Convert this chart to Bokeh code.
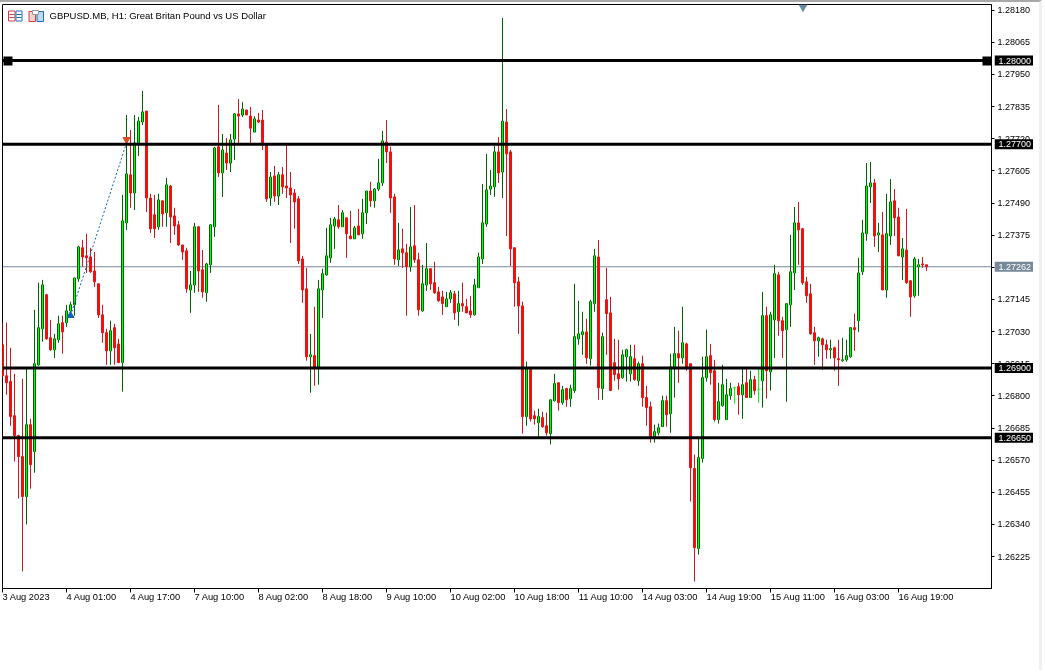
from bokeh.plotting import figure
from bokeh.embed import file_html
from bokeh.resources import INLINE
from bokeh.core.properties import value
from bokeh.models import (LinearAxis, FixedTicker, Label, Range1d, Span,
                          PrintfTickFormatter, ColumnDataSource)
import numpy as np

# ---- data, in points (1e-5 price units), one value per hourly bar
open_pts = [126983,126872,126851,126729,126658,126583,126440,126697,126601,126911,
 127040,127162,127008,126965,127001,127062,127062,127104,127126,127219,
 127330,127301,127297,127247,127201,127090,127026,126961,127044,126986,
 126919,127419,127591,127526,127705,127780,127819,127508,127448,127405,
 127498,127455,127551,127444,127412,127340,127319,127179,127197,127405,
 127251,127169,127269,127405,127691,127598,127669,127633,127719,127809,
 127805,127823,127801,127744,127787,127787,127698,127508,127587,127515,
 127591,127551,127544,127526,127505,127290,127183,126940,126944,126904,
 127179,127233,127294,127408,127430,127405,127437,127372,127362,127408,
 127380,127455,127533,127498,127540,127562,127708,127673,127512,127287,
 127326,127312,127262,127337,127287,127104,127197,127255,127205,127172,
 127154,127119,127147,127165,127101,127130,127119,127104,127090,127187,
 127290,127415,127540,127548,127673,127601,127780,127673,127330,127208,
 127122,126726,126897,126729,126704,126722,126693,126665,126783,126847,
 126776,126826,126790,126819,127004,127019,127029,126933,127130,127297,
 126826,127144,127097,126919,126879,126865,126940,126879,126933,126854,
 126915,126794,126761,126654,126668,126690,126783,126736,126897,126951,
 126936,126986,126915,126540,126254,126576,126865,126944,126890,126715,
 126765,126715,126801,126829,126833,126804,126847,126794,126858,126822,
 126854,127087,126886,127072,127233,127069,127037,127126,127240,127419,
 127398,127208,127165,127026,126997,127004,126983,126965,126972,126933,
 126926,126929,126940,127044,127069,127244,127380,127548,127562,127376,
 127376,127179,127372,127498,127440,127297,127322,127212,127158,127262,127272,127269]
high_pts = [127062,127062,126972,126879,126661,126861,126904,126718,127108,127205,
 127215,127165,127072,127022,127087,127087,127126,127137,127222,127337,
 127358,127380,127330,127315,127201,127126,127040,127069,127058,127004,
 127519,127805,127751,127805,127798,127891,127819,127523,127519,127523,
 127498,127580,127555,127473,127426,127340,127330,127247,127419,127408,
 127322,127276,127415,127691,127841,127737,127723,127737,127812,127862,
 127851,127823,127834,127801,127812,127823,127698,127601,127623,127601,
 127619,127698,127601,127540,127515,127301,127258,127022,127119,127215,
 127255,127401,127437,127440,127483,127465,127437,127462,127408,127469,
 127505,127533,127566,127544,127648,127748,127787,127691,127523,127419,
 127398,127344,127476,127483,127312,127269,127347,127255,127280,127190,
 127176,127172,127179,127176,127176,127205,127147,127158,127219,127312,
 127558,127666,127608,127694,127726,128152,127826,127680,127330,127226,
 127137,126922,126897,126747,126754,126743,126740,126786,126879,126847,
 126836,126829,126840,127201,127140,127101,127076,127144,127326,127358,
 127026,127258,127154,127004,127001,126965,126969,126983,126983,126922,
 126944,126836,126779,126697,126701,126801,126801,126951,127047,127033,
 127119,126990,126915,126590,126647,126940,127037,126986,126929,126847,
 126911,126861,126847,126833,126847,126897,126897,126890,126872,126897,
 127172,127119,127101,127269,127244,127083,127130,127376,127476,127494,
 127401,127226,127201,127047,127012,127008,127001,127001,126976,127001,
 127008,127001,127044,127094,127294,127430,127633,127637,127576,127419,
 127458,127523,127576,127540,127473,127365,127469,127212,127297,127290,127297,127269]
low_pts = [126865,126804,126693,126565,126433,126172,126340,126468,126525,126908,
 126994,127001,126961,126936,126990,126951,127047,127097,127087,127208,
 127262,127240,127240,127190,127079,126990,126911,126911,126911,126919,
 126815,127394,127473,127465,127658,127769,127458,127383,127365,127394,
 127405,127405,127347,127376,127337,127287,127169,127097,127169,127172,
 127151,127137,127240,127369,127583,127512,127608,127601,127644,127705,
 127798,127805,127705,127744,127776,127680,127494,127480,127494,127483,
 127523,127508,127347,127398,127272,127133,126926,126811,126836,126840,
 127079,127230,127276,127326,127398,127405,127294,127362,127362,127376,
 127362,127415,127476,127473,127533,127551,127633,127455,127269,127265,
 127258,127087,127244,127276,127087,127101,127176,127179,127165,127137,
 127090,127119,127133,127072,127051,127101,127097,127079,127087,127187,
 127272,127405,127519,127512,127562,127508,127372,127265,127119,127022,
 126665,126693,126708,126697,126651,126686,126658,126626,126779,126747,
 126768,126761,126761,126811,126983,126947,126915,126908,127101,126786,
 126786,126947,126819,126854,126822,126861,126851,126851,126854,126836,
 126761,126693,126633,126633,126658,126690,126690,126668,126794,126847,
 126915,126890,126422,126136,126232,126561,126851,126840,126708,126701,
 126761,126715,126786,126772,126733,126718,126794,126794,126804,126776,
 126758,126790,126819,126936,127015,126936,126779,127047,127179,127269,
 127197,127133,127019,126911,126940,126893,126933,126933,126890,126836,
 126922,126922,126936,126961,127029,127233,127355,127490,127333,127315,
 127179,127151,127340,127372,127301,127215,127201,127083,127151,127158,127258,127247]
close_pts = [126872,126847,126726,126658,126583,126440,126697,126554,126915,127044,
 127197,127004,126965,127004,127058,127029,127104,127126,127222,127333,
 127297,127294,127244,127208,127090,127026,126961,127033,126972,126919,
 127426,127594,127526,127705,127783,127816,127508,127398,127398,127501,
 127451,127555,127440,127408,127340,127315,127183,127197,127405,127247,
 127172,127272,127412,127687,127598,127680,127633,127716,127809,127801,
 127826,127805,127758,127791,127780,127698,127505,127583,127515,127591,
 127548,127544,127519,127494,127283,127179,126940,126947,126897,127183,
 127237,127301,127412,127433,127405,127455,127380,127362,127401,127376,
 127455,127533,127498,127540,127562,127712,127673,127508,127290,127322,
 127312,127262,127333,127287,127108,127201,127255,127201,127169,127140,
 127130,127147,127169,127097,127130,127122,127097,127090,127197,127297,
 127419,127537,127551,127673,127598,127783,127666,127326,127205,127122,
 126726,126897,126718,126718,126726,126690,126668,126786,126844,126776,
 126822,126786,126826,127012,127022,127029,126936,127137,127301,126829,
 127012,127094,126819,126876,126861,126947,126965,126940,126858,126915,
 126794,126758,126654,126672,126686,126783,126733,126904,126951,126936,
 126990,126904,126543,126257,126579,126865,126940,126883,126715,126779,
 126840,126804,126826,126829,126804,126840,126794,126858,126819,126822,
 127087,126890,127090,127237,127069,127033,127130,127244,127419,127394,
 127205,127158,127022,126997,127008,126983,126965,126969,126936,126929,
 126929,126944,127044,127037,127240,127383,127551,127562,127372,127383,
 127179,127380,127494,127437,127301,127326,127205,127154,127290,127269,127269,127262]

price_ticks = [1.28180,1.28065,1.27950,1.27835,1.27720,1.27605,1.27490,1.27375,1.27260,
               1.27145,1.27030,1.26915,1.26800,1.26685,1.26570,1.26455,1.26340,1.26225]
time_labels = ["3 Aug 2023","4 Aug 01:00","4 Aug 17:00","7 Aug 10:00","8 Aug 02:00",
               "8 Aug 18:00","9 Aug 10:00","10 Aug 02:00","10 Aug 18:00","11 Aug 10:00",
               "14 Aug 03:00","14 Aug 19:00","15 Aug 11:00","16 Aug 03:00","16 Aug 19:00"]
time_ticks = [0,16,32,48,64,80,96,112,128,144,160,176,192,208,224]
levels = [1.28000,1.27700,1.26900,1.26650]
last_price = 1.27262
trade_bars = [17,31]
trade_prices = [1.27087,1.27705]
title = "GBPUSD.MB, H1:  Great Britan Pound vs US Dollar"

FONT = "Liberation Sans"
GREEN_DK, GREEN_LT, RED, RED_WICK, LIME = "#006400", "#00ff00", "#f01010", "#c81c1c", "#00ff00"
SLATE = "#778899"

o, h, l, c = (np.array(a)/1e5 for a in (open_pts, high_pts, low_pts, close_pts))
idx = np.arange(len(o))
wick = [LIME if a == b else (GREEN_DK if b > a else RED_WICK) for a, b in zip(o, c)]
edge = [LIME if a == b else (GREEN_DK if b > a else RED) for a, b in zip(o, c)]
fill = [LIME if a == b else (GREEN_LT if b > a else RED) for a, b in zip(o, c)]
src = ColumnDataSource(dict(x=idx, h=h, l=l, top=np.maximum(o, c), bot=np.minimum(o, c),
                            wick=wick, edge=edge, fill=fill))

# frame geometry of the picture: the canvas starts under a 2px window edge
EDGE_T, EDGE_R = 2, 3
L, T, FW, FH, W, H = 2, 2, 989, 584, 1045-EDGE_R, 670
PX_PER_BAR = 4.0
PER_PX = 1/27948
x0 = (L - 2.0)/PX_PER_BAR
x1 = x0 + FW/PX_PER_BAR
ytop = 1.28000 + (60 - (T+EDGE_T))*PER_PX
ybot = ytop - FH*PER_PX
xd = lambda px: x0 + (px - L)/PX_PER_BAR
yd = lambda py: ytop - (py - (T+EDGE_T))*PER_PX

p = figure(width=W, height=H, output_backend="svg", toolbar_location=None,
           x_range=Range1d(x0, x1), y_range=Range1d(ybot, ytop),
           x_axis_type=None, y_axis_type=None, tools="",
           min_border_left=L, min_border_top=T, min_border_right=W-L-FW, min_border_bottom=H-T-FH,
           background_fill_color="white", border_fill_color="white",
           outline_line_color="black", outline_line_width=1)
p.grid.visible = False
p.styles = {"position": "fixed", "left": "0px", "top": "0px",
            "border-top": f"{EDGE_T}px solid #a8a8a8", "border-right": f"{EDGE_R}px solid #f0f0f0"}

# axes
ax_y = LinearAxis(ticker=FixedTicker(ticks=price_ticks), formatter=PrintfTickFormatter(format="%.5f"),
                  major_tick_in=0, major_tick_out=3, minor_tick_line_color=None,
                  major_label_standoff=3, major_label_text_font=FONT, major_label_text_font_size="9px",
                  major_label_text_color="black", axis_line_color="black")
p.add_layout(ax_y, "right")

ax_x = LinearAxis(ticker=FixedTicker(ticks=time_ticks), major_tick_in=0, major_tick_out=4,
                  minor_tick_line_color=None, axis_line_color="black",
                  major_label_text_font_size="0px", major_label_standoff=0,
                  major_label_overrides={t: "" for t in time_ticks})
p.add_layout(ax_x, "below")

# labels start at their tick: a second, line-less axis carries them, centred half a label to the right
XFS = 9.3
CW = {" ": .278, ":": .278, "A": .667, "u": .556, "g": .556}
lw = lambda s: sum(CW.get(ch, .556) for ch in s)*XFS/PX_PER_BAR
shifted = [t + lw(s)/2 for t, s in zip(time_ticks, time_labels)]
ax_xl = LinearAxis(ticker=FixedTicker(ticks=shifted), major_tick_line_color=None, minor_tick_line_color=None,
                   axis_line_color=None, major_label_standoff=-7, major_label_text_font=FONT,
                   major_label_text_font_size=f"{XFS}px", major_label_text_color="black",
                   major_label_overrides=dict(zip(shifted, time_labels)))
p.add_layout(ax_xl, "below")

# last price line goes under the candles
p.add_layout(Span(location=last_price, dimension="width", line_color=SLATE, line_width=1, level="underlay"))

p.segment("x", "h", "x", "l", source=src, line_color="wick", line_width=1)
p.vbar(x="x", width=0.5, top="top", bottom="bot", source=src, fill_color="fill", line_color="edge", line_width=1)
# bright core of each body
p.vbar(x="x", width=0.25, top="top", bottom="bot", source=src, fill_color="fill", line_color=None)

# trade markers
p.line(trade_bars, trade_prices, line_color="#1464b4", line_width=1, line_dash="2 2")
p.scatter([trade_bars[0]], [yd(315)], marker="triangle", size=7, fill_color="#1464b4", line_color="#1464b4")
p.scatter([trade_bars[1]], [yd(139)], marker="inverted_triangle", size=7, fill_color="#e04a20", line_color="#e04a20")

# horizontal levels
for lv in levels:
    p.add_layout(Span(location=lv, dimension="width", line_color="black", line_width=3))
# end handles of the top level
p.quad(left=[xd(3), xd(982)], right=[xd(12), xd(991)], top=[yd(56), yd(56)], bottom=[yd(65), yd(65)],
       fill_color="black", line_color="black", line_width=0)

# window title + icons
p.add_layout(Label(x=xd(49), y=yd(15), text=title, text_color="black", text_font=FONT, text_font_size="9.5px",
                   text_baseline="middle", text_align="left"))
p.quad(left=[xd(8)], right=[xd(14.5)], top=[yd(10.5)], bottom=[yd(20.5)], fill_color="white", line_color="#e03a3a")
p.quad(left=[xd(15.5)], right=[xd(21.5)], top=[yd(10.5)], bottom=[yd(20.5)], fill_color="white", line_color="#1f6db5")
p.segment([xd(9), xd(9), xd(16), xd(16)], [yd(14), yd(17), yd(14), yd(17)],
          [xd(14), xd(14), xd(21), xd(21)], [yd(14), yd(17), yd(14), yd(17)],
          line_color=["#e03a3a", "#e03a3a", "#1f6db5", "#1f6db5"])
p.quad(left=[xd(28.5)], right=[xd(35)], top=[yd(11)], bottom=[yd(21)], fill_color="#fbd5cf", line_color="#e03a3a")
p.quad(left=[xd(36.5)], right=[xd(43)], top=[yd(11)], bottom=[yd(21)], fill_color="#bcdcf5", line_color="#1f6db5")
p.quad(left=[xd(32)], right=[xd(38)], top=[yd(10)], bottom=[yd(14)], fill_color="white", line_color="#9a9a9a")

# little marker at the top of the window
p.scatter([xd(802.5)], [yd(6.5)], marker="inverted_triangle", size=9, fill_color="#6a8aa0", line_color=None)

# price tags sit on the axis strip, where annotations of the main plot would be clipped: a transparent
# second plot, placed over that strip, with the same price scale
TAG_L, TAG_W, TAG_H = 994, 39, 672
q = figure(width=TAG_W, height=TAG_H, output_backend="svg", toolbar_location=None, tools="",
           x_range=Range1d(0, TAG_W), y_range=Range1d(yd(TAG_H), yd(0)),
           x_axis_type=None, y_axis_type=None, min_border=0,
           background_fill_alpha=0, border_fill_alpha=0, outline_line_color=None)
q.grid.visible = False
q.styles = {"position": "fixed", "left": f"{TAG_L}px", "top": "0px"}
tag_prices = levels + [last_price]
tag_colors = ["black"]*len(levels) + [SLATE]
half = 5*PER_PX
q.quad(left=0, right=TAG_W, top=[v + half for v in tag_prices], bottom=[v - half for v in tag_prices],
       fill_color=tag_colors, line_color=None)
q.text(x=4, y=tag_prices, text=[f"{v:.5f}" for v in tag_prices], text_color="white",
       text_font=value(FONT), text_font_size="9px", text_baseline="middle", text_align="left")

open("out.html", "w").write(file_html([p, q], INLINE))
